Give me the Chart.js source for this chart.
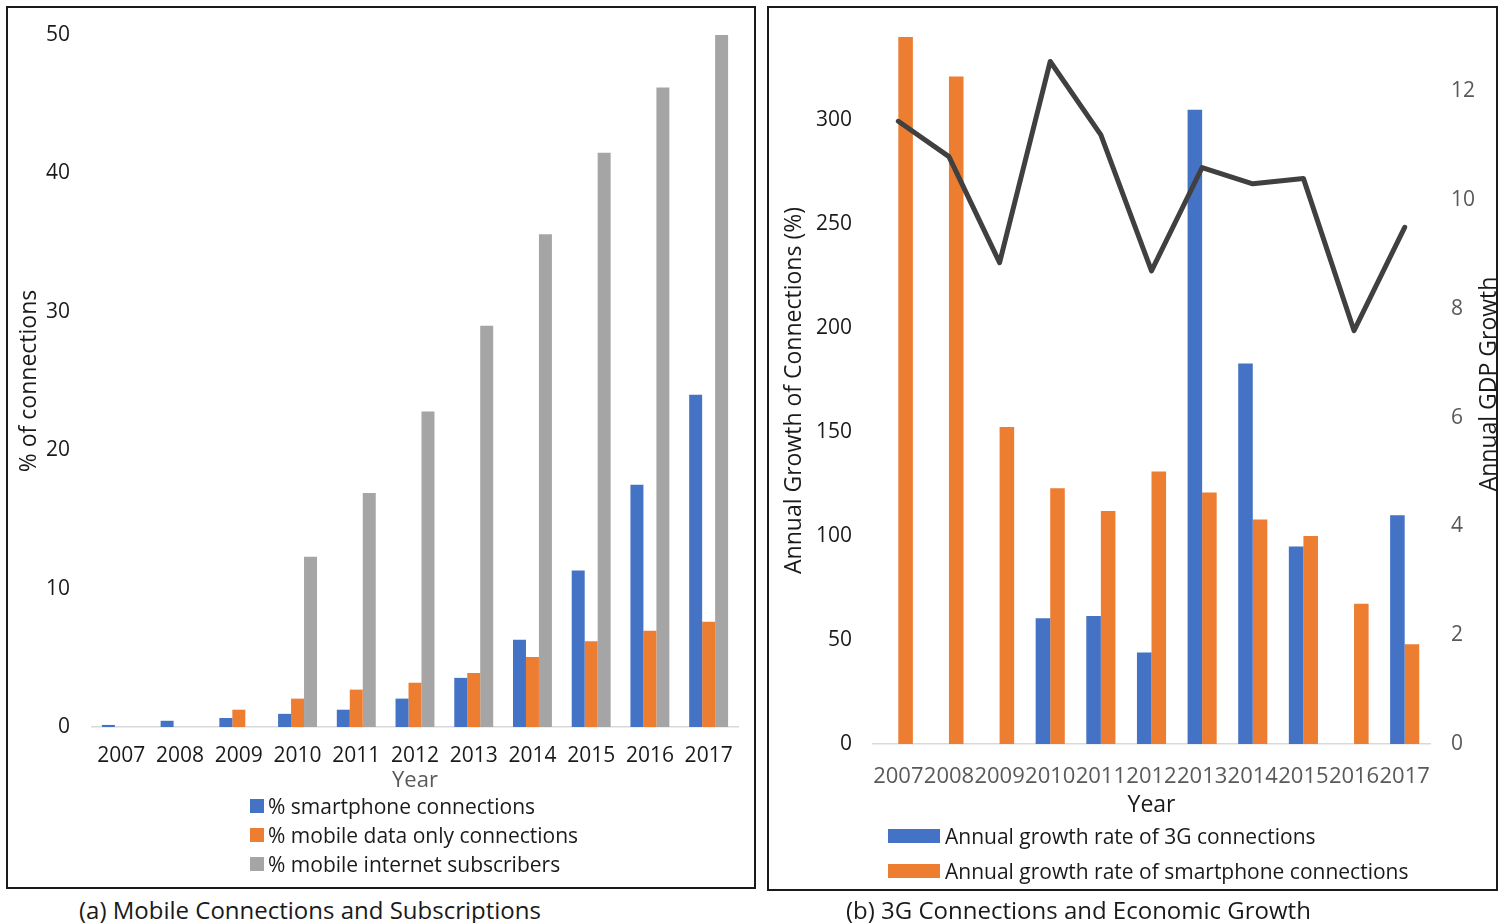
<!DOCTYPE html>
<html>
<head>
<meta charset="utf-8">
<script src="https://cdn.jsdelivr.net/npm/chart.js@4.4.1/dist/chart.umd.min.js"></script>
<style>
  html, body { margin: 0; padding: 0; background: #fff; width: 1499px; height: 923px; overflow: hidden; font-family: "Open Sans", sans-serif; }
  .panel { position: absolute; border: 2px solid #1a1a1a; box-sizing: border-box; pointer-events: none; z-index: 2; }
  #panelA { left: 6px; top: 6px; width: 750px; height: 883px; }
  #panelB { left: 767px; top: 6px; width: 731px; height: 885px; }
  canvas { position: absolute; }
  #chartA { left: 9px; top: 9px; }
  #chartB { left: 770px; top: 9px; }
  .legend { position: absolute; font-size: 21px; color: #1a1a1a; }
  .legend .row { display: flex; align-items: center; white-space: nowrap; }
  .legend .sw { flex: none; }
  .caption { position: absolute; top: 893px; font-size: 24px; line-height: 34px; color: #1a1a1a; white-space: nowrap; }
</style>
</head>
<body>
<canvas id="chartA" width="744" height="786"></canvas>
<canvas id="chartB" width="729" height="810"></canvas>
<div class="panel" id="panelA"></div>
<div class="panel" id="panelB"></div>
<div class="legend" id="legendA" style="left:250px; top:791px;"></div>
<div class="legend" id="legendB" style="left:888px; top:818px;"></div>
<div class="caption" style="left:79px;">(a) Mobile Connections and Subscriptions</div>
<div class="caption" style="left:846px;">(b) 3G Connections and Economic Growth</div>

<script>
// ---- data ----
const years = ['2007', '2008', '2009', '2010', '2011', '2012', '2013', '2014', '2015', '2016', '2017'];

// (a) shares of connections / subscribers, %
const smartphonePct = [0.15, 0.45, 0.65, 0.95, 1.25, 2.05, 3.55, 6.3, 11.3, 17.5, 24.0];
const dataOnlyPct   = [null, null, 1.25, 2.05, 2.7, 3.2, 3.9, 5.05, 6.2, 6.95, 7.6];
const internetPct   = [null, null, null, 12.3, 16.9, 22.8, 29.0, 35.6, 41.5, 46.2, 50.0];
const seriesNamesA  = ['% smartphone connections', '% mobile data only connections', '% mobile internet subscribers'];
const ticksA        = [0, 10, 20, 30, 40, 50];

// (b) annual growth rates, % and GDP growth
const growth3G         = [null, null, null, 60.5, 61.5, 44, 305, 183, 95, -1, 110];
const growthSmartphone = [340, 321, 152.5, 123, 112, 131, 121, 108, 100, 67.5, 48];
const gdpGrowth        = [11.45, 10.8, 8.85, 12.55, 11.2, 8.7, 10.6, 10.3, 10.4, 7.6, 9.5];
const seriesNamesB     = ['Annual growth rate of 3G connections', 'Annual growth rate of smartphone connections', 'Annual GDP Growth'];
const ticksBLeft       = [0, 50, 100, 150, 200, 250, 300];
const ticksBRight      = [0, 2, 4, 6, 8, 10, 12];

// ---- styling ----
const BLUE = '#4472C4', ORANGE = '#ED7D31', GREY = '#A5A5A5', LINE = '#404040';
const TEXT = '#1a1a1a', MUTED = '#595959', AXIS = '#D9D9D9';
const FONT = '"Open Sans", sans-serif';
Chart.defaults.font.family = FONT;
Chart.defaults.animation = false;

// fixed axis sizes; the label overhang is dropped so the plot area stays where the layout padding puts it
const fixWidth = w => s => { s.width = w; s.paddingTop = 0; s.paddingBottom = 0; };
const fixHeight = h => s => { s.height = h; s.paddingLeft = 0; s.paddingRight = 0; };
const keepTicks = list => s => { s.ticks = list.map(v => ({ value: v })); };

// (a) grouped bars
const chartA = new Chart(document.getElementById('chartA'), {
  type: 'bar',
  data: {
    labels: years,
    datasets: [
      { label: seriesNamesA[0], data: smartphonePct, backgroundColor: BLUE },
      { label: seriesNamesA[1], data: dataOnlyPct, backgroundColor: ORANGE },
      { label: seriesNamesA[2], data: internetPct, backgroundColor: GREY }
    ]
  },
  options: {
    responsive: false,
    layout: { autoPadding: false, padding: { top: 26, right: 15, left: 0, bottom: 0 } },
    datasets: { bar: { categoryPercentage: 0.663, barPercentage: 1 } },
    plugins: { legend: { display: false }, tooltip: { enabled: false } },
    scales: {
      x: {
        grid: { display: false, drawTicks: false },
        border: { display: true, color: AXIS, width: 1.5 },
        ticks: { color: TEXT, font: { size: 21 }, padding: 16, maxRotation: 0, autoSkip: false },
        title: { display: true, text: 'Year', color: MUTED, font: { size: 22 }, padding: { top: 0, bottom: 1 } },
        afterFit: fixHeight(68)
      },
      y: {
        min: 0, max: 50,
        grid: { display: false, drawTicks: false },
        border: { display: false },
        ticks: { color: TEXT, font: { size: 21 }, padding: 22 },
        afterBuildTicks: keepTicks(ticksA),
        title: { display: true, text: '% of connections', color: TEXT, font: { size: 23 }, padding: { top: 7, bottom: 0 } },
        afterFit: fixWidth(83)
      }
    }
  }
});

// right-hand axis title reads bottom-to-top, like the left one
const rightTitle = {
  id: 'rightTitle',
  afterDraw(chart) {
    const { ctx } = chart;
    ctx.save();
    ctx.font = '23px ' + FONT;
    ctx.fillStyle = TEXT;
    ctx.textAlign = 'center';
    ctx.textBaseline = 'middle';
    ctx.translate(719, 375);
    ctx.rotate(-Math.PI / 2);
    ctx.fillText(seriesNamesB[2], 0, 0);
    ctx.restore();
  }
};

// (b) bars plus GDP line on a second axis
const chartB = new Chart(document.getElementById('chartB'), {
  type: 'bar',
  data: {
    labels: years,
    datasets: [
      { type: 'line', label: seriesNamesB[2], data: gdpGrowth, yAxisID: 'y2', order: 0,
        borderColor: LINE, borderWidth: 5, pointRadius: 0, tension: 0,
        borderJoinStyle: 'round', borderCapStyle: 'round', fill: false },
      { label: seriesNamesB[0], data: growth3G, backgroundColor: BLUE, yAxisID: 'y', order: 1 },
      { label: seriesNamesB[1], data: growthSmartphone, backgroundColor: ORANGE, yAxisID: 'y', order: 1 }
    ]
  },
  options: {
    responsive: false,
    layout: { autoPadding: false, padding: { top: 28, right: 0, left: 0, bottom: 0 } },
    datasets: { bar: { categoryPercentage: 0.575, barPercentage: 1 } },
    plugins: { legend: { display: false }, tooltip: { enabled: false } },
    scales: {
      x: {
        grid: { display: false, drawTicks: false },
        border: { display: true, color: AXIS, width: 1.5 },
        ticks: { color: MUTED, font: { size: 22 }, padding: 20, maxRotation: 0, autoSkip: false },
        title: { display: true, text: 'Year', color: TEXT, font: { size: 23 }, padding: { top: 0, bottom: 0 } },
        afterFit: fixHeight(75)
      },
      y: {
        position: 'left', min: 0, max: 340,
        grid: { display: false, drawTicks: false },
        border: { display: false },
        ticks: { color: TEXT, font: { size: 21 }, padding: 21 },
        afterBuildTicks: keepTicks(ticksBLeft),
        title: { display: true, text: 'Annual Growth of Connections (%)', color: TEXT, font: { size: 23 }, padding: { top: 11, bottom: 0 } },
        afterFit: fixWidth(103)
      },
      y2: {
        position: 'right', min: 0, max: 13,
        grid: { display: false, drawTicks: false },
        border: { display: false },
        ticks: { color: MUTED, font: { size: 21 }, padding: 21 },
        afterBuildTicks: keepTicks(ticksBRight),
        afterFit: fixWidth(69)
      }
    }
  },
  plugins: [rightTitle]
});

// HTML legends built from the chart datasets
function buildLegend(el, chart, names, sw, rowH, gap) {
  chart.data.datasets.forEach(ds => {
    if (!names.includes(ds.label) || ds.type === 'line') return;
    const row = document.createElement('div');
    row.className = 'row';
    row.style.height = rowH + 'px';
    const box = document.createElement('span');
    box.className = 'sw';
    box.style.width = sw[0] + 'px';
    box.style.height = sw[1] + 'px';
    box.style.background = ds.backgroundColor;
    box.style.marginRight = gap + 'px';
    const txt = document.createElement('span');
    txt.textContent = ds.label;
    row.appendChild(box);
    row.appendChild(txt);
    el.appendChild(row);
  });
}
buildLegend(document.getElementById('legendA'), chartA, seriesNamesA, [14, 14], 29, 4);
buildLegend(document.getElementById('legendB'), chartB, seriesNamesB, [52, 14], 35, 5);
</script>
</body>
</html>
